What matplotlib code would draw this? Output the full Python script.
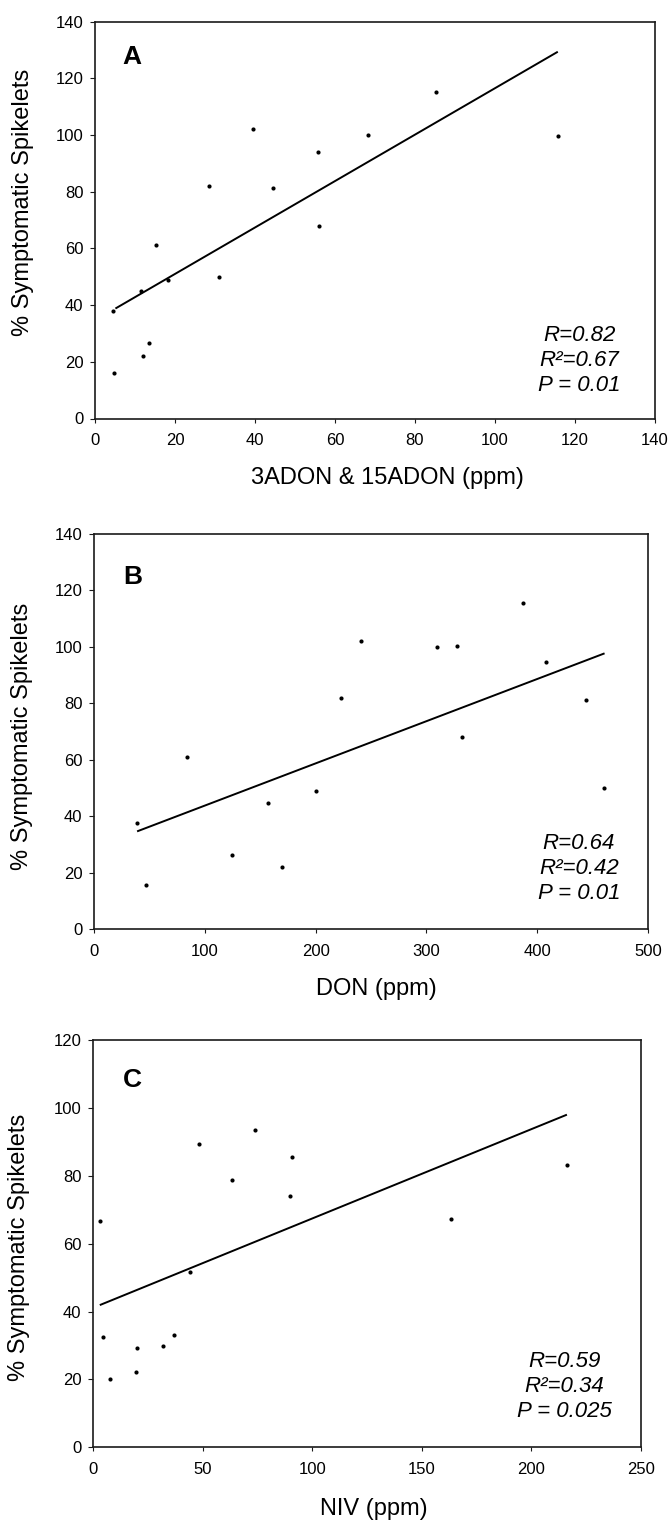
import matplotlib
matplotlib.use("Agg")
import matplotlib.pyplot as plt
import numpy as np

plt.rcParams['font.family'] = ['Liberation Sans', 'DejaVu Sans']

# ---------------- data ----------------
a_x = [4.6, 4.7, 11.5, 12.1, 13.4, 15.2, 18.2, 28.5, 31.1, 39.5, 44.6, 55.8, 56.0, 68.2, 85.2, 115.7]
a_y = [37.9, 16.2, 45.1, 22.2, 26.8, 61.2, 48.9, 82.2, 49.9, 102.0, 81.2, 94.1, 68.0, 100.0, 115.3, 99.7]
a_trend_x = [5.1, 115.7]
a_trend_y = [38.8, 129.4]

b_x = [38.9, 47.3, 83.5, 124.6, 157.0, 169.6, 200.0, 222.7, 240.8, 309.2, 327.3, 332.3, 387.3, 408.1, 444.2, 460.4]
b_y = [37.5, 15.6, 61.1, 26.4, 44.8, 21.8, 48.9, 82.0, 102.2, 99.9, 100.3, 67.9, 115.6, 94.5, 81.1, 50.0]
b_trend_x = [38.9, 460.8]
b_trend_y = [34.6, 97.7]

c_x = [3.1, 4.7, 7.9, 19.6, 20.0, 31.9, 37.1, 44.4, 48.4, 63.6, 73.9, 89.9, 90.8, 163.2, 216.2]
c_y = [66.7, 32.4, 20.1, 22.2, 29.3, 29.9, 33.1, 51.7, 89.4, 78.9, 93.4, 74.1, 85.4, 67.2, 83.3]
c_trend_x = [3.1, 216.2]
c_trend_y = [41.9, 98.0]

panel_letters = ["A", "B", "C"]
x_labels = ["3ADON & 15ADON (ppm)", "DON (ppm)", "NIV (ppm)"]
y_label = "% Symptomatic Spikelets"
stats = ["R=0.82\nR\u00b2=0.67\nP = 0.01",
         "R=0.64\nR\u00b2=0.42\nP = 0.01",
         "R=0.59\nR\u00b2=0.34\nP = 0.025"]
x_ticks = [np.arange(0, 141, 20), np.arange(0, 501, 100), np.arange(0, 251, 50)]
y_ticks = [np.arange(0, 141, 20), np.arange(0, 141, 20), np.arange(0, 121, 20)]

# ---------------- layout ----------------
W, H = 669, 1524
fig = plt.figure(figsize=(W / 100, H / 100), dpi=100)

def px_axes(left, right, top, bottom):
    return [left / W, 1 - bottom / H, (right - left) / W, (bottom - top) / H]

axes_px = [(95, 655, 21.7, 418.5), (94, 648, 534, 929), (93, 641, 1040, 1447.3)]
ylabel_px = [(23, 202.5), (22.5, 736), (19, 1247.5)]
xlabel_px = [(387, 478), (376, 989), (374, 1509)]
letter_pos = [(6.9, 131.7), (26.8, 129.0), (13.7, 111.7)]
stats_pos = [(121, 20.6), (437.7, 21.3), (215, 17.8)]

xs = [a_x, b_x, c_x]
ys = [a_y, b_y, c_y]
txs = [a_trend_x, b_trend_x, c_trend_x]
tys = [a_trend_y, b_trend_y, c_trend_y]

spine_color = "#1a1a1a"
for i in range(3):
    l, r, t, b = axes_px[i]
    ax = fig.add_axes(px_axes(l, r, t, b))
    ax.plot(xs[i], ys[i], 'o', color='black', ms=3.0, mew=0)
    ax.plot(txs[i], tys[i], '-', color='black', lw=1.4, solid_capstyle='butt')
    ax.set_xlim(x_ticks[i][0], x_ticks[i][-1])
    ax.set_ylim(y_ticks[i][0], y_ticks[i][-1])
    ax.set_xticks(x_ticks[i])
    ax.set_yticks(y_ticks[i])
    for s in ax.spines.values():
        s.set_linewidth(1.2)
        s.set_color(spine_color)
    ax.tick_params(axis='y', direction='out', length=3.4, width=0.8, pad=5,
                   labelsize=12, color=spine_color)
    ax.tick_params(axis='x', direction='out', length=3.0, width=0.8, pad=7.5,
                   labelsize=12, color=spine_color)
    ax.text(letter_pos[i][0], letter_pos[i][1], panel_letters[i], fontsize=19,
            fontweight='bold', ha='left', va='top')
    ax.text(stats_pos[i][0], stats_pos[i][1], stats[i], fontsize=16, style='italic',
            ha='center', va='center', multialignment='center', linespacing=1.25)
    # axis labels
    ax.set_xlabel(x_labels[i], fontsize=17, va='center', ha='center')
    ax.xaxis.set_label_coords((xlabel_px[i][0] - l) / (r - l), (b - xlabel_px[i][1]) / (b - t))
    ax.set_ylabel(y_label, fontsize=17, va='center', ha='center')
    ax.yaxis.set_label_coords((ylabel_px[i][0] - l) / (r - l), (b - ylabel_px[i][1]) / (b - t))

fig.savefig("out.png", dpi=100)
